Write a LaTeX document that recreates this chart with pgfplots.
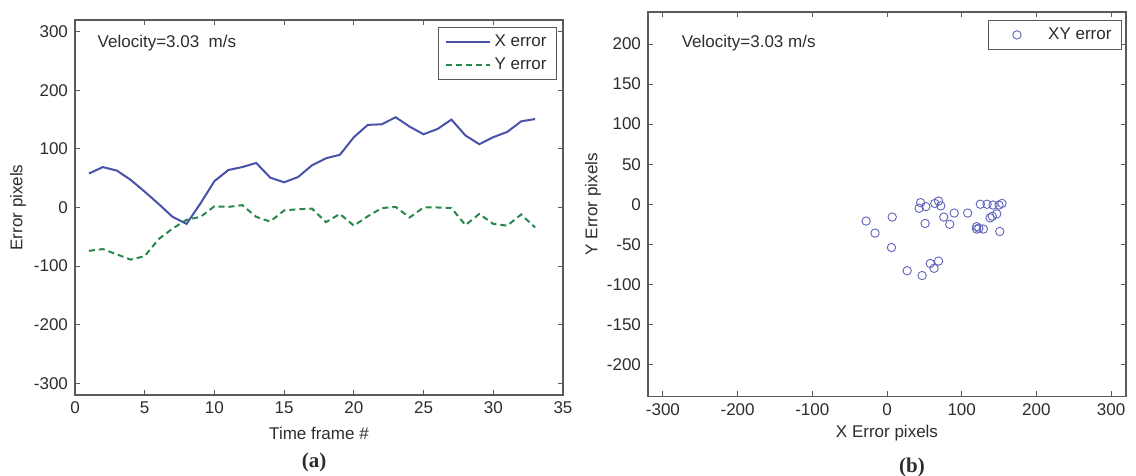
\documentclass[border=0pt]{standalone}
\usepackage{fontspec}
\setmainfont{Liberation Sans}
\newfontfamily\capfont{Liberation Serif}
\usepackage{pgfplots}
\pgfplotsset{compat=1.18}
\usepackage{pgfplotstable}

\pgfplotstableread{
t ex ey
1 58 -74
2 69 -71
3 63 -80
4 47 -89
5 27 -83
6 6 -54
7 -16 -36
8 -28 -21
9 7 -16
10 45 2
11 64 1
12 69 4
13 76 -16
14 51 -24
15 43 -5
16 52 -3
17 72 -2
18 84 -25
19 90 -11
20 120 -31
21 141 -15
22 142 -1
23 154 1
24 138 -17
25 125 0
26 134 0
27 150 -1
28 123 -30
29 108 -11
30 120 -28
31 129 -31
32 147 -12
33 151 -34
}\errdata

\definecolor{xblue}{RGB}{72,82,168}
\definecolor{mblue}{RGB}{95,100,185}
\definecolor{ygreen}{RGB}{40,135,75}
\definecolor{axgray}{RGB}{90,90,90}
\definecolor{txtgray}{RGB}{45,45,45}

\begin{document}
\begin{tikzpicture}
\useasboundingbox (0pt,0pt) rectangle (568pt,238pt);
\pgfplotsset{
  every axis/.append style={
    scale only axis,
    font=\fontsize{8.5}{10}\selectfont,
    /pgf/number format/assume math mode=true,
    tick align=inside,
    major tick length=2.5pt,
    axis line style={axgray, line width=0.7pt},
    every tick/.style={axgray, line width=0.5pt},
    ticklabel style={text=txtgray},
    label style={text=txtgray},
    legend cell align=left,
  },
}
\begin{axis}[
  at={(37.5pt,40.5pt)}, anchor=south west,
  width=244pt, height=187.5pt,
  xmin=0, xmax=35, ymin=-320, ymax=320,
  xtick={0,5,...,35}, ytick={-300,-200,...,300},
  xlabel={Time frame \#}, ylabel={Error pixels},
  xlabel style={at={(axis description cs:0.5,-0.103)}, anchor=center},
  ylabel style={at={(axis description cs:-0.117,0.5)}, anchor=center},
  legend style={at={(0.9877,0.981)}, anchor=north east, draw=axgray,
    line width=0.5pt, font=\fontsize{8.5}{10}\selectfont, text=txtgray,
    inner xsep=3pt, inner ysep=1.5pt, row sep=0pt},
  legend image code/.code={\draw[#1] (0pt,0pt) -- (22pt,0pt);},
]
\addplot[xblue, line width=1pt] table[x=t, y=ex] {\errdata};
\addlegendentry{X error}
\addplot[ygreen, line width=1pt, dash pattern=on 3pt off 2pt] table[x=t, y=ey] {\errdata};
\addlegendentry{Y error}
\node[anchor=west, text=txtgray] at (rel axis cs:0.032,0.939) {Velocity=3.03~~m/s};
\end{axis}

\begin{axis}[
  at={(324pt,39.75pt)}, anchor=south west,
  width=239pt, height=192.25pt,
  xmin=-320, xmax=320, ymin=-240, ymax=240,
  xtick={-300,-200,...,300}, ytick={-200,-150,...,200},
  xlabel={X Error pixels}, ylabel={Y Error pixels},
  xlabel style={at={(axis description cs:0.5,-0.095)}, anchor=center},
  ylabel style={at={(axis description cs:-0.115,0.5)}, anchor=center},
  legend style={at={(0.9916,0.979)}, anchor=north east, draw=axgray,
    line width=0.5pt, font=\fontsize{8.5}{10}\selectfont, text=txtgray,
    inner xsep=3pt, inner ysep=1.5pt},
  legend image code/.code={\path (0pt,0pt); \draw[#1] plot coordinates {(11pt,0pt)};},
]
\addplot[only marks, mark=o, mark size=2.1pt, mblue, mark options={line width=0.45pt}]
  table[x=ex, y=ey] {\errdata};
\addlegendentry{\hspace{11.5pt}XY error}
\node[anchor=west, text=txtgray] at (rel axis cs:0.056,0.919) {Velocity=3.03 m/s};
\end{axis}

\node[font=\capfont\bfseries\fontsize{10.5}{12}\selectfont, text=txtgray] at (157pt,6.8pt) {(a)};
\node[font=\capfont\bfseries\fontsize{10.5}{12}\selectfont, text=txtgray] at (456pt,4.5pt) {(b)};
\end{tikzpicture}
\end{document}
